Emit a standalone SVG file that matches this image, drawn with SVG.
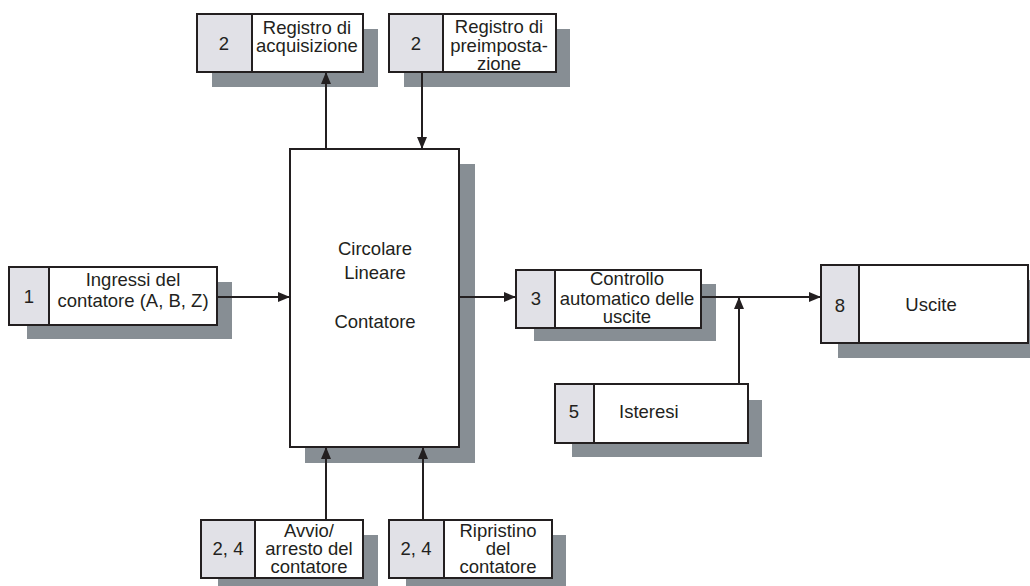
<svg xmlns="http://www.w3.org/2000/svg" width="1030" height="586" viewBox="0 0 1030 586">
<style>
.sh{fill:#878e94}
.bx{fill:#ffffff;stroke:#231f20;stroke-width:2}
.nm{fill:#e1e1e7;stroke:#231f20;stroke-width:2}
text{font-family:"Liberation Sans",Arial,sans-serif;font-size:18.5px;fill:#231f20}
.c{text-anchor:middle}
.ln{stroke:#231f20;stroke-width:2;fill:none}
</style>
<defs>
<marker id="ah" markerWidth="12" markerHeight="10" refX="11" refY="5" orient="auto" markerUnits="userSpaceOnUse">
<path d="M0,0 L12,5 L0,10 Z" fill="#231f20"/>
</marker>
</defs>
<g id="main">
<rect class="sh" x="305" y="164" width="170" height="299"/>
<rect class="bx" x="290" y="149" width="169" height="298"/>
<text class="c" x="375" y="255">Circolare</text>
<text class="c" x="375" y="279">Lineare</text>
<text class="c" x="375" y="328">Contatore</text>
</g>
<g id="acq">
<rect class="sh" x="212" y="29" width="166" height="58"/>
<rect class="bx" x="197" y="14" width="166" height="58"/>
<rect class="nm" x="197" y="14" width="55" height="58"/>
<text class="c" x="224" y="50">2</text>
<text class="c" x="307" y="34">Registro di</text>
<text class="c" x="307" y="52">acquisizione</text>
</g>
<g id="preimp">
<rect class="sh" x="404" y="29" width="166" height="58"/>
<rect class="bx" x="389" y="14" width="167" height="58"/>
<rect class="nm" x="389" y="14" width="54" height="58"/>
<text class="c" x="416" y="50">2</text>
<text class="c" x="499" y="33">Registro di</text>
<text class="c" x="499" y="52">preimposta-</text>
<text class="c" x="499" y="70">zione</text>
</g>
<g id="ingressi">
<rect class="sh" x="27" y="282" width="205" height="57"/>
<rect class="bx" x="9" y="267" width="208" height="58"/>
<rect class="nm" x="9" y="267" width="40" height="58"/>
<text class="c" x="29" y="303">1</text>
<text class="c" x="133" y="286">Ingressi del</text>
<text class="c" x="133" y="307">contatore (A, B, Z)</text>
</g>
<g id="controllo">
<rect class="sh" x="534" y="284" width="182" height="57"/>
<rect class="bx" x="516" y="270" width="185" height="58"/>
<rect class="nm" x="516" y="270" width="39" height="58"/>
<text class="c" x="536" y="305">3</text>
<text class="c" x="627" y="285">Controllo</text>
<text class="c" x="627" y="305">automatico delle</text>
<text class="c" x="627" y="323">uscite</text>
</g>
<g id="isteresi">
<rect class="sh" x="572" y="400" width="190" height="57"/>
<rect class="bx" x="555" y="384" width="193" height="59"/>
<rect class="nm" x="555" y="384" width="39" height="59"/>
<text class="c" x="574" y="418">5</text>
<text x="619" y="418">Isteresi</text>
</g>
<g id="uscite">
<rect class="sh" x="838" y="280" width="192" height="78"/>
<rect class="bx" x="821" y="265" width="207" height="78"/>
<rect class="nm" x="821" y="265" width="38" height="78"/>
<text class="c" x="840" y="312">8</text>
<text class="c" x="931" y="311">Uscite</text>
</g>
<g id="avvio">
<rect class="sh" x="218" y="535" width="160" height="51"/>
<rect class="bx" x="201" y="520" width="162" height="58"/>
<rect class="nm" x="201" y="520" width="54" height="58"/>
<text class="c" x="228" y="555">2, 4</text>
<text class="c" x="309" y="537">Avvio/</text>
<text class="c" x="309" y="555">arresto del</text>
<text class="c" x="309" y="573">contatore</text>
</g>
<g id="ripristino">
<rect class="sh" x="406" y="535" width="160" height="51"/>
<rect class="bx" x="389" y="520" width="163" height="58"/>
<rect class="nm" x="389" y="520" width="55" height="58"/>
<text class="c" x="416" y="555">2, 4</text>
<text class="c" x="498" y="537">Ripristino</text>
<text class="c" x="498" y="555">del</text>
<text class="c" x="498" y="573">contatore</text>
</g>
<g id="connectors">
<line class="ln" x1="326" y1="148" x2="326" y2="73" marker-end="url(#ah)"/>
<line class="ln" x1="422" y1="73" x2="422" y2="148" marker-end="url(#ah)"/>
<line class="ln" x1="218" y1="297" x2="289" y2="297" marker-end="url(#ah)"/>
<line class="ln" x1="460" y1="297" x2="515" y2="297" marker-end="url(#ah)"/>
<line class="ln" x1="702" y1="297" x2="820" y2="297" marker-end="url(#ah)"/>
<line class="ln" x1="739" y1="383" x2="739" y2="298" marker-end="url(#ah)"/>
<line class="ln" x1="326" y1="519" x2="326" y2="448" marker-end="url(#ah)"/>
<line class="ln" x1="423" y1="519" x2="423" y2="448" marker-end="url(#ah)"/>
</g>
</svg>
